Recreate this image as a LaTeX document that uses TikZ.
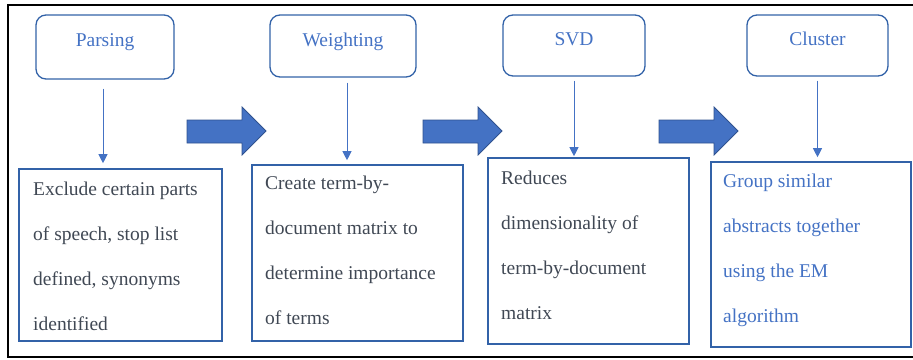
\documentclass[tikz,border=0pt]{standalone}
\usepackage{fontspec}
\setmainfont{Liberation Serif}
\usetikzlibrary{arrows.meta}
\definecolor{tblue}{HTML}{4472C4}
\definecolor{bblue}{HTML}{3262A8}
\definecolor{dblue}{HTML}{2F528F}
\definecolor{btext}{HTML}{404854}
\tikzset{
  stage/.style={draw=bblue, line width=1.3pt, rounded corners=10pt, inner sep=0pt},
  title/.style={text=tblue, font=\fontsize{19.5}{22}\selectfont, anchor=base, inner sep=0pt},
  desc/.style={draw=bblue, line width=1.6pt, inner sep=0pt},
  body/.style={anchor=base west, inner sep=0pt, text=btext},
  thin/.style={draw=tblue, line width=0.9pt, -{Triangle[width=9pt,length=9pt]}},
  blockarrow/.style={fill=tblue, draw=dblue, line width=0.8pt},
}
\newcommand{\bodytext}[1]{\parbox[t]{210pt}{\fontsize{19.5}{45}\selectfont\raggedright #1}}
\begin{document}
\begin{tikzpicture}[x=1pt,y=-1pt]
\useasboundingbox (0,0) rectangle (913,359);
% frame
\draw[line width=2.5pt] (913,5) -- (8,5) -- (8,357) -- (913,357);
% top rounded boxes
\node[stage, minimum width=138pt, minimum height=64pt] (p) at (105,47) {};
\node[stage, minimum width=146pt, minimum height=62pt] (w) at (343,46) {};
\node[stage, minimum width=142pt, minimum height=61pt] (s) at (574,45.5) {};
\node[stage, minimum width=141pt, minimum height=61pt] (c) at (817.5,45.5) {};
\node[title] (pt) at (105,46) {Parsing};
\node[title] (wt) at (343,46) {Weighting};
\node[title] (st) at (574,45) {SVD};
\node[title] (ct) at (817.5,45) {Cluster};
% bottom boxes
\node[desc, minimum width=203pt, minimum height=172pt] (b1) at (120.5,255) {};
\node[desc, minimum width=211pt, minimum height=176pt] (b2) at (357.5,253) {};
\node[desc, minimum width=201pt, minimum height=186pt] (b3) at (588.5,251) {};
\node[desc, minimum width=200pt, minimum height=185pt] (b4) at (811,254.5) {};
\node[body] (t1) at (33,195) {\bodytext{Exclude certain parts\\of speech, stop list\\defined, synonyms\\identified}};
\node[body] (t2) at (265,189) {\bodytext{Create term-by-\\document matrix to\\determine importance\\of terms}};
\node[body] (t3) at (501,184) {\bodytext{Reduces\\dimensionality of\\term-by-document\\matrix}};
\node[body, text=tblue] (t4) at (723,187) {\bodytext{Group similar\\abstracts together\\using the EM\\algorithm}};
% thin arrows
\draw[thin] ([xshift=-2pt,yshift=-9pt]p.south) -- ([xshift=-2pt,yshift=5pt]p.south |- b1.north);
\draw[thin] ([xshift=4pt,yshift=-5pt]w.south) -- ([xshift=4pt,yshift=4pt]w.south |- b2.north);
\draw[thin] ([yshift=-4pt]s.south) -- ([yshift=1pt]s.south |- b3.north);
\draw[thin] ([yshift=-4pt]c.south) -- ([yshift=4pt]c.south |- b4.north);
% block arrows
\foreach \xs/\xh/\xt in {187/242/266, 423/478/502, 659/714/738}{
  \draw[blockarrow] (\xs,120) -- (\xh,120) -- (\xh,107) -- (\xt,131) -- (\xh,155) -- (\xh,143) -- (\xs,143) -- cycle;
}
\end{tikzpicture}
\end{document}
